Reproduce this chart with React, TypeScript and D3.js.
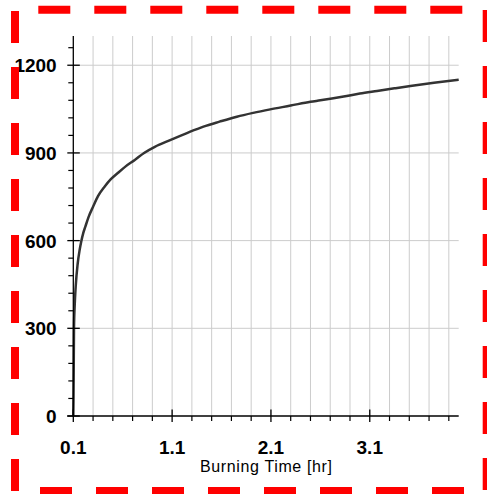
import * as d3 from 'd3'

// burning time [hr] and temperature
const timeHr = [0.1, 0.102, 0.104, 0.107, 0.115, 0.124, 0.144, 0.164, 0.181, 0.2, 0.222, 0.256, 0.3, 0.35, 0.418, 0.48, 0.553, 0.63, 0.722, 0.816, 0.925, 1.08, 1.25, 1.417, 1.58, 1.755, 1.92, 2.093, 2.3, 2.5, 2.6, 2.836, 3.0, 3.174, 3.35, 3.511, 3.75, 4.0]
const temp = [0, 60, 150, 300, 385, 442, 520, 568, 598, 625, 648, 682, 716, 752, 785, 810, 832, 854, 876, 900, 921, 944, 968, 990, 1007, 1024, 1037, 1049, 1062, 1075, 1080, 1093, 1103, 1112, 1121, 1129, 1140, 1150]

const xMajor = [0.1, 1.1, 2.1, 3.1]
const xMinor = [0.3, 0.5, 0.7, 0.9, 1.3, 1.5, 1.7, 1.9, 2.3, 2.5, 2.7, 2.9, 3.3, 3.5, 3.7, 3.9]
const yMajor = [0, 300, 600, 900, 1200]
const yMinor = [60, 120, 180, 240, 360, 420, 480, 540, 660, 720, 780, 840, 960, 1020, 1080, 1140, 1260]

const xTitle = 'Burning Time [hr]'

export default function App() {
    const W = 487, H = 494
    const left = 73.3, right = 458.7, top = 36, bottom = 416

    const x = d3.scaleLinear().domain([0.1, 4.0]).range([left, right])
    const y = d3.scaleLinear().domain([0, 1300]).range([bottom, top])

    const line = d3.line<number>()
        .x((d, i) => x(timeHr[i]))
        .y(d => y(d))
        .curve(d3.curveMonotoneX)

    const font = 'Arial, "Liberation Sans", sans-serif'
    const gridAll = [...xMinor, ...xMajor.slice(1)]

    return (
        <svg width={W} height={H} style={{ position: 'absolute', left: 0, top: 0 }}>
            <rect width={W} height={H} fill='#fff' />
            {/* grid */}
            {gridAll.map(v => (
                <line key={'gx' + v} x1={x(v)} x2={x(v)} y1={top} y2={bottom} stroke='#cccccc' strokeWidth={1} />
            ))}
            {yMajor.slice(1).map(v => (
                <line key={'gy' + v} x1={left} x2={right} y1={y(v)} y2={y(v)} stroke='#cccccc' strokeWidth={1} />
            ))}
            {/* curve */}
            <path d={line(temp) ?? ''} fill='none' stroke='#333' strokeWidth={2.5} />
            {/* axes */}
            <line x1={left} x2={left} y1={top} y2={bottom + 1} stroke='#000' strokeWidth={1.3} />
            <line x1={left - 6} x2={right} y1={bottom} y2={bottom} stroke='#000' strokeWidth={1.3} />
            {yMinor.map(v => (
                <line key={'ym' + v} x1={left - 5} x2={left} y1={y(v)} y2={y(v)} stroke='#000' strokeWidth={1.2} />
            ))}
            {yMajor.map(v => (
                <line key={'yM' + v} x1={left - 6} x2={left + 6.5} y1={y(v)} y2={y(v)} stroke='#000' strokeWidth={1.3} />
            ))}
            {xMinor.map(v => (
                <line key={'xm' + v} x1={x(v)} x2={x(v)} y1={bottom} y2={bottom + 5} stroke='#000' strokeWidth={1.2} />
            ))}
            {xMajor.map(v => (
                <line key={'xM' + v} x1={x(v)} x2={x(v)} y1={bottom - 6.5} y2={bottom + 6} stroke='#000' strokeWidth={1.3} />
            ))}
            {yMajor.map(v => (
                <text key={'yl' + v} x={56.7} y={y(v) + 7} textAnchor='end' fontFamily={font} fontWeight='bold' fontSize={19} fill='#000'>{v}</text>
            ))}
            {xMajor.map(v => (
                <text key={'xl' + v} x={x(v)} y={454} textAnchor='middle' fontFamily={font} fontWeight='bold' fontSize={19} fill='#000'>{v.toFixed(1)}</text>
            ))}
            <text x={266} y={471.7} textAnchor='middle' fontFamily={font} fontSize={16} textLength={132} fill='#000'>{xTitle}</text>
            {/* red dashed frame */}
            <line x1={38.3} x2={470} y1={9.7} y2={9.7} stroke='#ff0000' strokeWidth={8} strokeDasharray='32 24' />
            <line x1={40} x2={472} y1={491} y2={491} stroke='#ff0000' strokeWidth={8} strokeDasharray='32 24' />
            <line x1={15} x2={15} y1={11} y2={494} stroke='#ff0000' strokeWidth={8} strokeDasharray='32 24' />
            <line x1={486.7} x2={486.7} y1={10} y2={494} stroke='#ff0000' strokeWidth={8} strokeDasharray='32 24' />
        </svg>
    )
}
